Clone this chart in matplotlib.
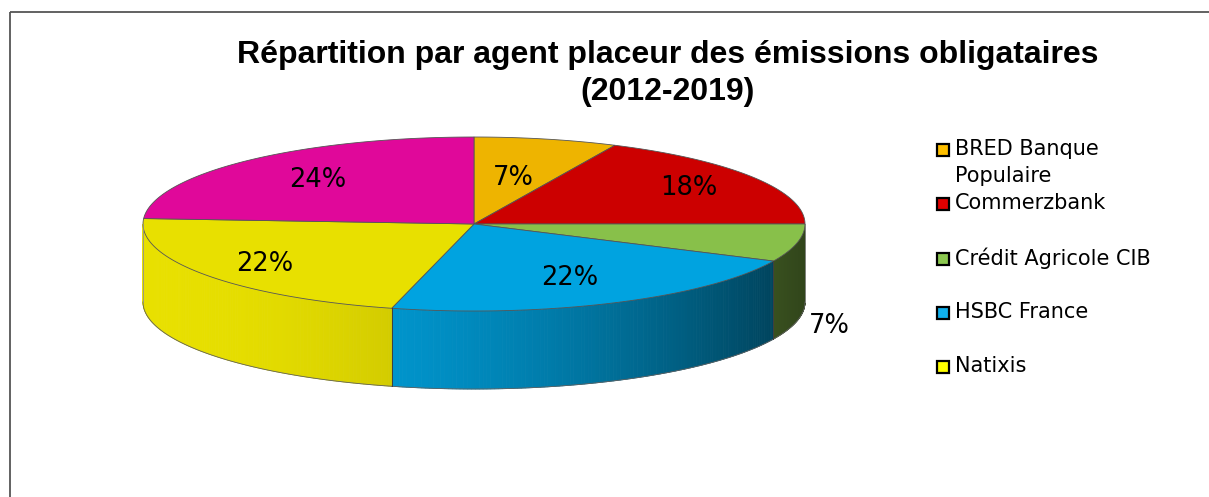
import numpy as np
import matplotlib
matplotlib.use("Agg")
import matplotlib.pyplot as plt
from matplotlib.patches import Polygon, Rectangle

# données
agents = ["BRED Banque\nPopulaire", "Commerzbank", "Crédit Agricole CIB",
          "HSBC France", "Natixis", "Autres"]
parts = [7, 18, 7, 22, 22, 24]
couleurs = ["#eeb400", "#cc0000", "#88c04a", "#00a3e0", "#e8e000", "#e0089a"]
couleurs_legende = ["#ffc000", "#e00000", "#8cc850", "#10b0ec", "#ffff00"]
titre = ["Répartition par agent placeur des émissions obligataires", "(2012-2019)"]

W, H = 1209, 497
fig = plt.figure(figsize=(W / 100, H / 100), dpi=100)
ax = fig.add_axes([0, 0, 1, 1])
ax.set_xlim(0, W)
ax.set_ylim(H, 0)
ax.axis("off")

# cadre du graphique (coupé à droite et en bas)
ax.add_patch(Rectangle((10, 12), W + 20, H + 20, fill=False, ec="#555555", lw=1.3))

ax.text(668, 63, titre[0], ha="center", va="baseline", fontsize=23,
        fontweight="bold", family="Liberation Sans")
ax.text(668, 100, titre[1], ha="center", va="baseline", fontsize=23,
        fontweight="bold", family="Liberation Sans")

# géométrie du camembert 3D
cx, cy, rx, ry, ep = 474, 224, 331, 87, 78
total = sum(parts)
angles = [90.0]
for p in parts:
    angles.append(angles[-1] - 360.0 * p / total)


def pt(a, r=1.0, dz=0.0):
    t = np.radians(a)
    return cx + r * rx * np.cos(t), cy - r * ry * np.sin(t) + dz


def ombre(col, f):
    c = np.array(matplotlib.colors.to_rgb(col))
    return tuple(c * f)


# côtés (seulement la moitié avant)
for i, p in enumerate(parts):
    a1, a2 = angles[i + 1], angles[i]
    lo, hi = max(a1, -180.0), min(a2, 0.0)
    for lo_, hi_ in [(lo, hi), (max(a1 + 360, -180), min(a2 + 360, 0))]:
        if hi_ <= lo_:
            continue
        tt = np.linspace(lo_, hi_, 120)
        for k in range(len(tt) - 1):
            c = np.cos(np.radians((tt[k] + tt[k + 1]) / 2))
            f = 1 - 0.16 * (c + 1) ** 2
            x1, y1 = pt(tt[k]); x2, y2 = pt(tt[k + 1])
            ax.add_patch(Polygon([(x1, y1), (x2, y2), (x2, y2 + ep), (x1, y1 + ep)],
                                 closed=True, fc=ombre(couleurs[i], f),
                                 ec=ombre(couleurs[i], f), lw=0.6))
        arc = [pt(t, dz=ep) for t in tt]
        ax.plot([p_[0] for p_ in arc], [p_[1] for p_ in arc], color="#606060", lw=0.6)
        for a in (lo_, hi_):
            if -179 < a < -1:
                x, y = pt(a)
                ax.plot([x, x], [y, y + ep], color="#404040", lw=0.7)
x, y = pt(-180); ax.plot([x, x], [y, y + ep], color="#909090", lw=0.6)
x, y = pt(0); ax.plot([x, x], [y, y + ep], color="#909090", lw=0.6)

# dessus
for i, p in enumerate(parts):
    tt = np.linspace(angles[i + 1], angles[i], 150)
    pts = [(cx, cy)] + [pt(t) for t in tt]
    ax.add_patch(Polygon(pts, closed=True, fc=couleurs[i], ec="#555555", lw=0.6))

# étiquettes
r_lab = [0.54, 0.77, 1.1, 0.68, 0.78, 0.69]
for i, p in enumerate(parts):
    mid = (angles[i] + angles[i + 1]) / 2
    dz = ep * 1.04 if r_lab[i] > 1 else 0
    x, y = pt(mid, r_lab[i], dz)
    ax.text(x, y, f"{p}%", ha="center", va="center", fontsize=18.5, family="DejaVu Sans")

# légende
for i, nom in enumerate(agents[:5]):
    y = 150 + 54.3 * i
    ax.add_patch(Rectangle((937, y - 6), 12, 12, fc=couleurs_legende[i], ec="black", lw=1.6))
    ax.text(955, y - 11, nom, ha="left", va="top", fontsize=15, family="DejaVu Sans",
            linespacing=1.45)

fig.savefig("out.png", dpi=100)
